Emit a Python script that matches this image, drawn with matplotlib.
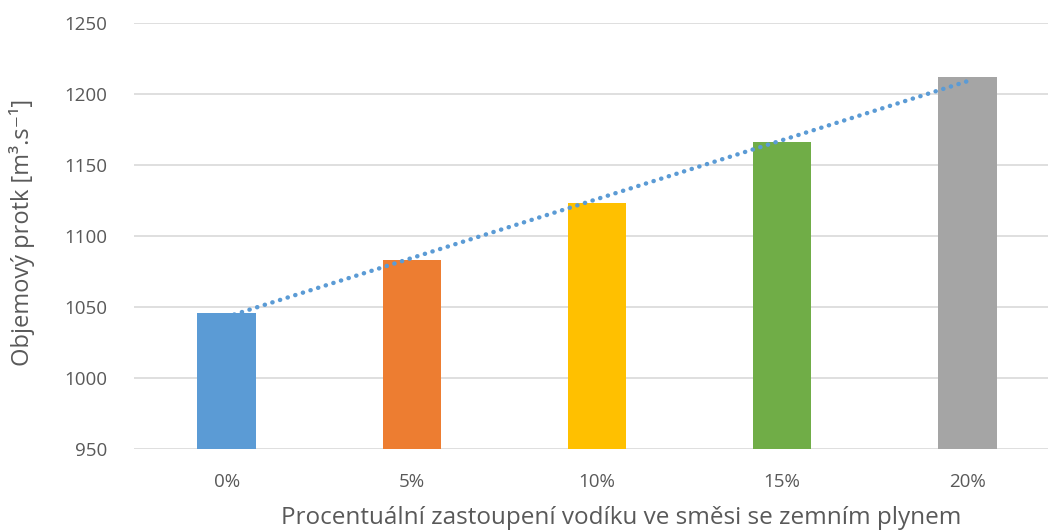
import numpy as np
import matplotlib
matplotlib.use('Agg')
import matplotlib.pyplot as plt

categories = ['0%', '5%', '10%', '15%', '20%']
values = [1046, 1083, 1123, 1166, 1212]
colors = ['#5B9BD5', '#ED7D31', '#FFC000', '#70AD47', '#A5A5A5']

plt.rcParams['font.family'] = ['Open Sans', 'DejaVu Sans']

fig = plt.figure(figsize=(10.48, 5.31), dpi=100)
ax = fig.add_axes([134 / 1048, 1 - 449 / 531, 926 / 1048, 426 / 531])

x = np.arange(len(categories))
ax.bar(x, values, width=0.315, color=colors, zorder=2)

# linear trendline
k, q = np.polyfit(x, values, 1)
ax.plot(x, k * x + q, color='#5B9BD5', linewidth=3.2,
        linestyle=(0, (0.05, 1.75)), dash_capstyle='round', zorder=3)

ax.set_xlim(-0.5, 4.5)
ax.set_ylim(950, 1250)
ax.set_yticks(range(950, 1251, 50))
ax.set_xticks(x)
ax.set_xticklabels(categories)
ax.grid(axis='y', color='#D9D9D9', linewidth=1.2, zorder=0)
for s in ax.spines.values():
    s.set_visible(False)
ax.tick_params(length=0, labelsize=13.5, colors='#595959')
ax.tick_params(axis='x', pad=17)
ax.tick_params(axis='y', pad=19)

ax.set_ylabel('Objemový protk [m³.s⁻¹]', fontsize=17, color='#595959', va='center')
ax.yaxis.set_label_coords(-(134 - 22) / 926, (449 - 232) / 426)
ax.set_xlabel('Procentuální zastoupení vodíku ve směsi se zemním plynem', fontsize=17.5,
              color='#595959', va='center')
ax.xaxis.set_label_coords((621 - 134) / 926, -(518 - 449) / 426)

fig.savefig('out.png', dpi=100)
